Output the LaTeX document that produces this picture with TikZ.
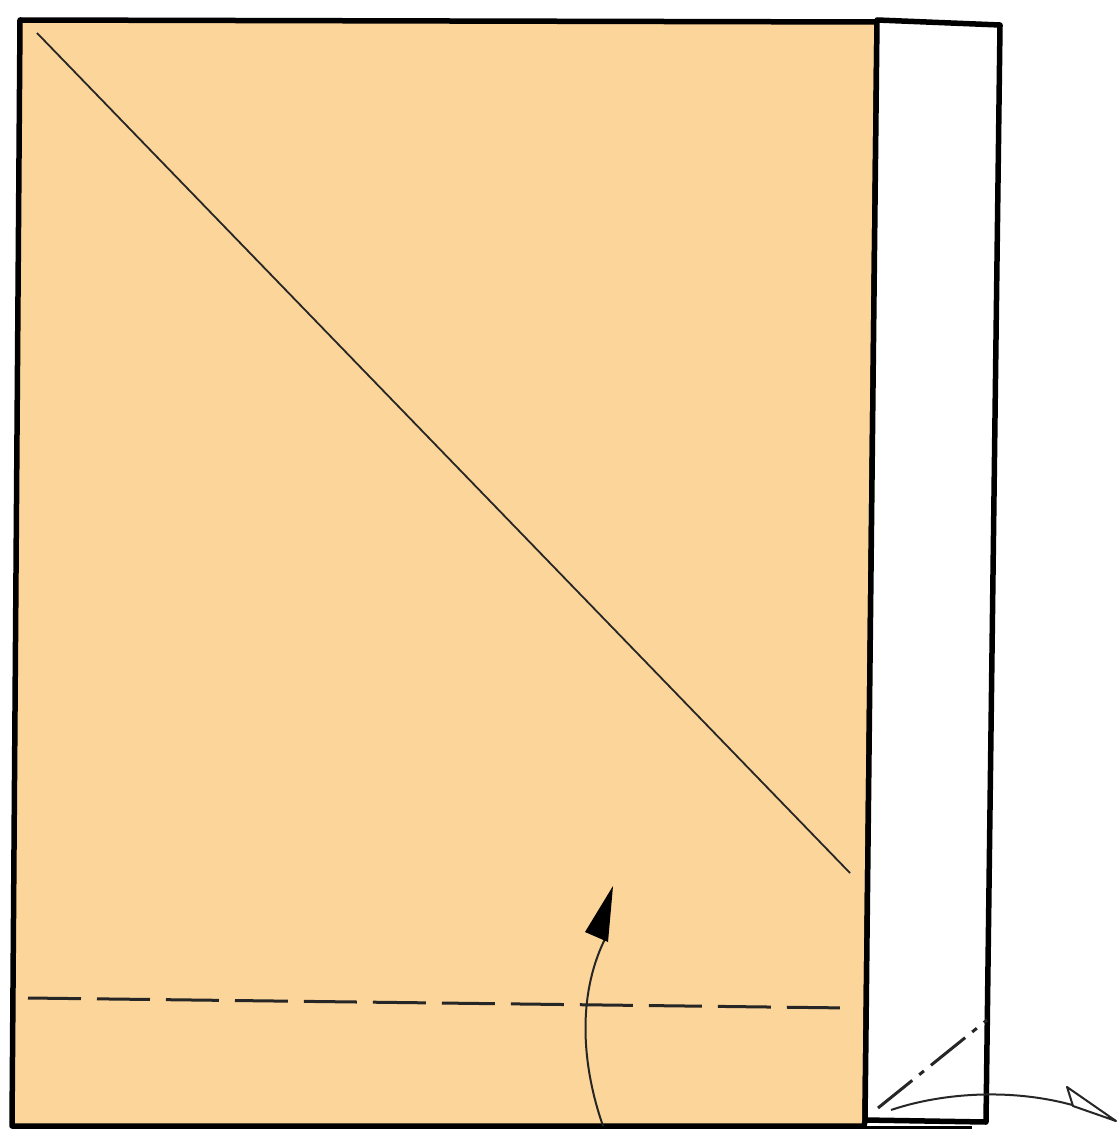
\documentclass[tikz,border=0pt]{standalone}
\usetikzlibrary{arrows.meta}
\definecolor{paper}{RGB}{252,213,154}
\tikzset{
  edge/.style={draw=black,line width=5.5pt,line join=round},
  crease/.style={draw=black!85,line width=1.8pt},
  valley/.style={draw=black!85,line width=3pt,dash pattern=on 53pt off 16pt},
  mountain/.style={draw=black!85,line width=3pt,dash pattern=on 44pt off 9pt on 6pt off 9pt},
  foldarrow/.style={draw=black!85,line width=2pt}
}
\begin{document}
\begin{tikzpicture}[x=1pt,y=-1pt]
\useasboundingbox (0,0) rectangle (1116,1134);
% lower layer bottom edge
\draw[line width=3pt] (864,1127) -- (972,1127);
% coloured side
\path[fill=paper,edge] (20,20) -- (877,22) -- (865,1121) -- (864,1126) -- (12,1126) -- cycle;
% white flap
\path[fill=white,edge] (877,20) -- (1000,25) -- (986,1122) -- (865,1120) -- cycle;
% named points
\coordinate (d1) at (37,33);
\coordinate (d2) at (850,873);
\coordinate (v1) at (28,998);
\coordinate (v2) at (850,1008);
\coordinate (a1) at (603,1126);
\coordinate (a2) at (607,935);
\coordinate (m1) at (878,1108);
\coordinate (m2) at (987,1020);
\coordinate (b1) at (891,1110);
\coordinate (b2) at (1116,1121);
% creases
\draw[crease] (d1) -- (d2);
\draw[valley] (v1) -- (v2);
\draw[mountain] (m1) -- (m2);
% valley fold arrow
\draw[foldarrow] (a1) .. controls (580,1060) and (578,990) .. (a2);
\fill[black] (613,886) -- (585,932) -- (608,942) -- cycle;
% mountain fold arrow
\draw[foldarrow] (b1) .. controls (950,1090) and (1040,1085) .. (b2);
\draw[foldarrow,fill=white,line join=round] (1067,1087) -- (1116,1121) -- (1073,1106) -- cycle;
\end{tikzpicture}
\end{document}
